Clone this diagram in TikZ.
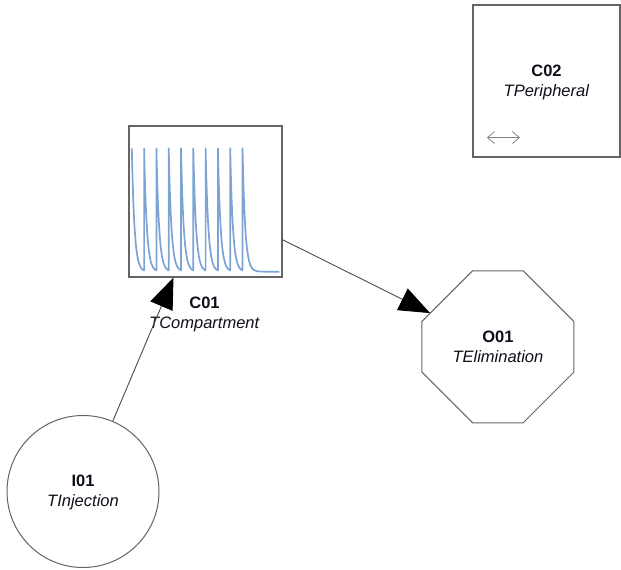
\documentclass[tikz,border=0pt]{standalone}
\usepackage{fontspec}
\setmainfont{Liberation Sans}
\usetikzlibrary{arrows.meta,calc}
\definecolor{bordc}{RGB}{100,100,100}
\definecolor{linec}{RGB}{75,75,75}
\definecolor{plotc}{RGB}{125,163,213}
\definecolor{txtc}{RGB}{15,15,25}
\begin{document}
\begin{tikzpicture}[x=1pt,y=-1pt,
  lbl/.style={font=\fontsize{16.5}{20}\selectfont, text=txtc, align=center, inner sep=0pt},
  boxnode/.style={draw=bordc, line width=1.1pt, rectangle, inner sep=0pt},
  circnode/.style={draw=bordc, line width=1pt, circle, inner sep=0pt, minimum size=152pt},
  conn/.style={draw=linec, line width=0.9pt, -{Triangle[length=31pt,width=24pt,color=black]}},
  curve/.style={draw=plotc, line width=1.7pt, line join=round}
]
\useasboundingbox (0,0) rectangle (621,570);

% C01 compartment with plot
\node[boxnode, minimum width=153pt, minimum height=151pt] (C01) at (205.5,201.5) {};
\node[lbl] (C01lbl) at (204.5,314) {\textbf{C01}\\\textit{TCompartment}};
\draw[curve] (131.8,148.3)
  \foreach \i in {0,...,8} {
    -- plot[domain=0:12.3, samples=30, smooth] ({131.8+12.3*\i+\x},{271.7-123.4*exp(-\x/2.7)})
  }
  -- plot[domain=0:36.8, samples=40, smooth] ({131.8+12.3*9+\x},{271.7-123.4*exp(-\x/2.7)});

% C02 peripheral
\node[boxnode, minimum width=147pt, minimum height=152pt] (C02) at (546.5,81) {};
\node[lbl] (C02lbl) at (546.5,82) {\textbf{C02}\\\textit{TPeripheral}};
\draw[draw=bordc!80, line width=0.8pt, {Straight Barb[length=7pt,width=12pt]}-{Straight Barb[length=7pt,width=12pt]}]
  ($(C02.south west)+(14.5,-20)$) -- ($(C02.south west)+(47.5,-20)$);

% I01 injection
\node[circnode] (I01) at (83,491.5) {};
\node[lbl] (I01lbl) at (83,492) {\textbf{I01}\\\textit{TInjection}};

% O01 elimination (octagon, corners cut at a third)
\node[circle, inner sep=0pt, minimum size=151pt] (O01) at (497.9,346.8) {};
\draw[draw=bordc, line width=1pt, line join=miter, shift={(O01.center)}]
  (-25.3,-76) -- (25.3,-76) -- (76,-25.3) -- (76,25.3) -- (25.3,76)
  -- (-25.3,76) -- (-76,25.3) -- (-76,-25.3) -- cycle;
\node[lbl] (O01lbl) at (497.9,347) {\textbf{O01}\\\textit{TElimination}};

% connectors
\draw[conn] (I01) -- (C01);
\draw[conn] (C01) -- (O01);
\end{tikzpicture}
\end{document}
